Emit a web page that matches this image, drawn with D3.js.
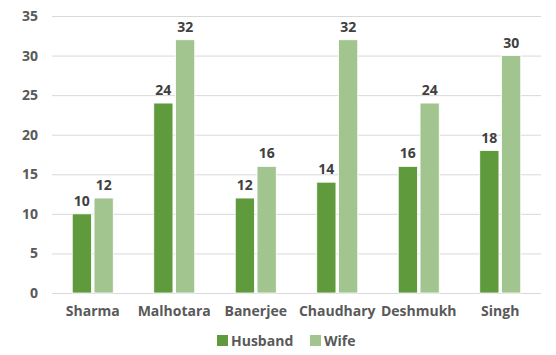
<!DOCTYPE html>
<html>
<head>
<meta charset="utf-8">
<script src="https://cdn.jsdelivr.net/npm/d3@7"></script>
<style>
  body { margin: 0; background: #fff; }
  text { font-family: "Open Sans", sans-serif; font-weight: bold; }
</style>
</head>
<body>
<div id="chart"></div>
<script>
const families = ["Sharma", "Malhotara", "Banerjee", "Chaudhary", "Deshmukh", "Singh"];
const husband = [10, 24, 12, 14, 16, 18];
const wife = [12, 32, 16, 32, 24, 30];
const seriesNames = ["Husband", "Wife"];
const yTicks = [0, 5, 10, 15, 20, 25, 30, 35];

const colors = { Husband: "#5f9a3c", Wife: "#a2c58f" };

const width = 556, height = 355;
const margin = { top: 16, right: 15, bottom: 62, left: 52 };

const svg = d3.select("#chart")
    .append("svg")
    .attr("width", width)
    .attr("height", height);

const x = d3.scaleBand()
    .domain(families)
    .range([margin.left, width - margin.right]);

const xInner = d3.scaleBand()
    .domain(seriesNames)
    .range([0, 41])
    .paddingInner(0.12);

const y = d3.scaleLinear()
    .domain([0, 35])
    .range([height - margin.bottom, margin.top]);

// gridlines
svg.append("g")
    .selectAll("line")
    .data(yTicks)
    .join("line")
    .attr("x1", margin.left)
    .attr("x2", width - margin.right)
    .attr("y1", d => y(d) + 0.5)
    .attr("y2", d => y(d) + 0.5)
    .attr("stroke", "#d9d9d9")
    .attr("stroke-width", 1);

// y axis labels
svg.append("g")
    .attr("transform", `translate(${margin.left}, 0)`)
    .call(d3.axisLeft(y).tickValues(yTicks).tickSize(0).tickPadding(14))
    .call(g => g.select(".domain").remove())
    .call(g => g.selectAll("text")
        .attr("fill", "#595959")
        .style("font-size", "14px")
        .style("font-family", "'Open Sans', sans-serif")
        .style("font-weight", "bold"));

// x axis labels
svg.append("g")
    .attr("transform", `translate(0, ${height - margin.bottom})`)
    .call(d3.axisBottom(x).tickSize(0).tickPadding(13))
    .call(g => g.select(".domain").remove())
    .call(g => g.selectAll("text")
        .attr("fill", "#595959")
        .style("font-size", "14px")
        .style("font-family", "'Open Sans', sans-serif")
        .style("font-weight", "bold"));

const rows = families.map((f, i) => ({
    family: f,
    values: [
        { key: "Husband", value: husband[i] },
        { key: "Wife", value: wife[i] }
    ]
}));

const groups = svg.append("g")
    .selectAll("g")
    .data(rows)
    .join("g")
    .attr("transform", d => `translate(${x(d.family) + (x.bandwidth() - 41) / 2}, 0)`);

groups.selectAll("rect")
    .data(d => d.values)
    .join("rect")
    .attr("x", d => xInner(d.key))
    .attr("y", d => y(d.value))
    .attr("width", xInner.bandwidth())
    .attr("height", d => y(0) - y(d.value))
    .attr("fill", d => colors[d.key])
    .attr("stroke", "#fff")
    .attr("stroke-width", 0.8);

groups.selectAll("text")
    .data(d => d.values)
    .join("text")
    .attr("x", d => xInner(d.key) + xInner.bandwidth() / 2)
    .attr("y", d => y(d.value) - 8)
    .attr("text-anchor", "middle")
    .attr("fill", "#404040")
    .style("font-size", "14px")
    .text(d => d.value);

// legend
const legend = svg.append("g")
    .attr("transform", `translate(217, 341)`);

const legendX = [0, 93];
seriesNames.forEach((s, i) => {
    legend.append("rect")
        .attr("x", legendX[i])
        .attr("y", -6)
        .attr("width", 11)
        .attr("height", 11)
        .attr("fill", colors[s]);
    legend.append("text")
        .attr("x", legendX[i] + 14)
        .attr("y", 5)
        .attr("fill", "#595959")
        .style("font-size", "14px")
        .text(s);
});
</script>
</body>
</html>
